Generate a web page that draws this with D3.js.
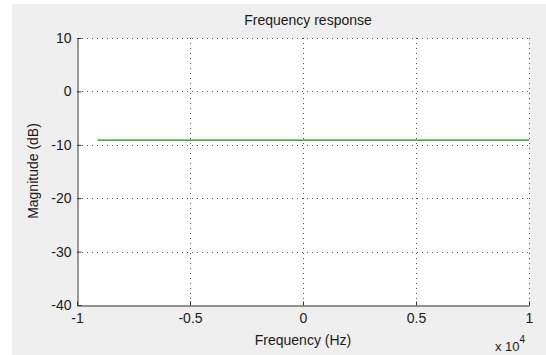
<!DOCTYPE html>
<html>
<head>
<meta charset="utf-8">
<script src="https://cdn.jsdelivr.net/npm/d3@7"></script>
<style>
  body { margin: 0; background: #fff; }
  text { font-family: "Liberation Sans", Arial, sans-serif; fill: #1a1a1a; }
</style>
</head>
<body>
<svg width="546" height="355"></svg>
<script>
// data
let freqHz = [-9080, 10000];
let magDb = [-9.12, -9.12];
let xTicks = [-1, -0.5, 0, 0.5, 1];
let yTicks = [-40, -30, -20, -10, 0, 10];

let svg = d3.select('svg');
let margin = {left: 77, top: 38, right: 529, bottom: 305};

svg.append('rect')
  .attr('x', 12).attr('y', 4)
  .attr('width', 534).attr('height', 351)
  .attr('fill', '#efefef');

svg.append('rect')
  .attr('x', margin.left).attr('y', margin.top)
  .attr('width', margin.right - margin.left)
  .attr('height', margin.bottom - margin.top)
  .attr('fill', '#fff');

let x = d3.scaleLinear().domain([-1, 1]).range([margin.left, margin.right]);
let y = d3.scaleLinear().domain([-40, 10]).range([margin.bottom, margin.top]);

// dotted grid
let grid = svg.append('g').attr('class', 'grid')
  .attr('stroke', '#555').attr('stroke-width', 1)
  .attr('stroke-dasharray', '1,4');

grid.selectAll('line.v')
  .data(xTicks.slice(1))
  .enter().append('line')
  .attr('x1', d => Math.round(x(d)) + 0.5).attr('x2', d => Math.round(x(d)) + 0.5)
  .attr('y1', margin.top).attr('y2', margin.bottom);

grid.selectAll('line.h')
  .data(yTicks.slice(1))
  .enter().append('line')
  .attr('y1', d => Math.round(y(d)) + 0.5).attr('y2', d => Math.round(y(d)) + 0.5)
  .attr('x1', margin.left).attr('x2', margin.right);

// green response line
let line = d3.line().x(d => x(d[0] / 1e4)).y(d => y(d[1]));
svg.append('path')
  .datum(freqHz.map((f, i) => [f, magDb[i]]))
  .attr('d', line)
  .attr('fill', 'none')
  .attr('stroke', '#109010')
  .attr('stroke-width', 1.3);

// axes, hyphen minus like the original
let fmt = d => String(d);
let xAxis = d3.axisBottom(x).tickValues(xTicks).tickFormat(fmt).tickSizeInner(-4).tickSizeOuter(0).tickPadding(8);
let yAxis = d3.axisLeft(y).tickValues(yTicks).tickFormat(fmt).tickSizeInner(-4).tickSizeOuter(0).tickPadding(6);

let gx = svg.append('g')
  .attr('transform', `translate(0,${margin.bottom + 0.5})`)
  .call(xAxis);
let gy = svg.append('g')
  .attr('transform', `translate(${margin.left + 0.5},0)`)
  .call(yAxis);

[gx, gy].forEach(g => {
  g.select('.domain').attr('stroke', '#333');
  g.selectAll('.tick line').attr('stroke', '#333');
  g.selectAll('.tick text').style('font-size', '14px').attr('fill', '#1a1a1a');
});

svg.append('text')
  .attr('x', 308).attr('y', 25)
  .attr('text-anchor', 'middle')
  .style('font-size', '14px')
  .text('Frequency response');

svg.append('text')
  .attr('x', 303).attr('y', 345)
  .attr('text-anchor', 'middle')
  .style('font-size', '14px')
  .text('Frequency (Hz)');

svg.append('text')
  .attr('transform', 'translate(38,171) rotate(-90)')
  .attr('text-anchor', 'middle')
  .style('font-size', '14px')
  .text('Magnitude (dB)');

let mult = svg.append('text')
  .attr('x', 495).attr('y', 351)
  .style('font-size', '13px');
mult.append('tspan').text('x 10');
mult.append('tspan').attr('dy', -8).style('font-size', '10px').text('4');
</script>
</body>
</html>
